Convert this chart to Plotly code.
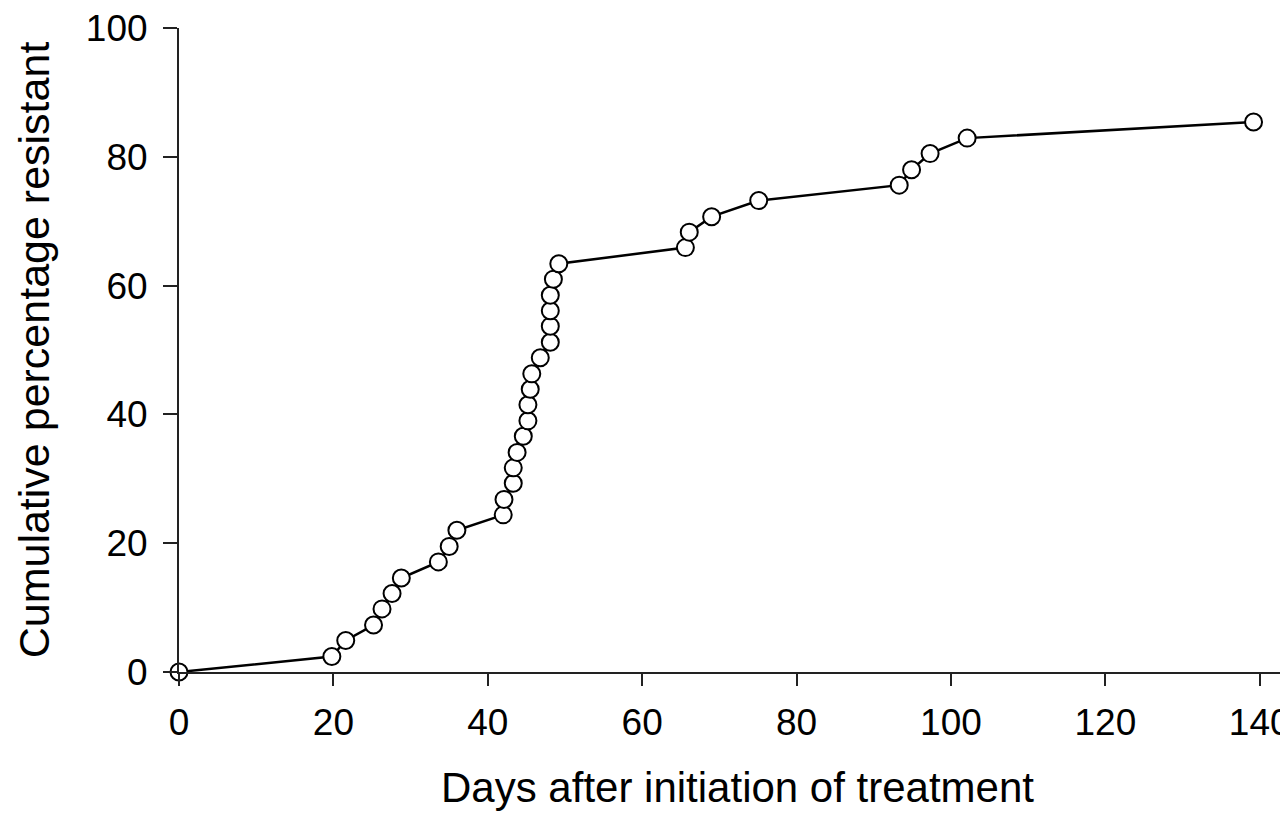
import plotly.graph_objects as go

days = [0, 19.8, 21.6, 25.2, 26.3, 27.6, 28.8, 33.6, 35.0, 36.0, 42.0, 42.1,
        43.3, 43.3, 43.8, 44.6, 45.2, 45.2, 45.5, 45.7, 46.8, 48.1, 48.1, 48.1,
        48.1, 48.5, 49.2, 65.6, 66.1, 69.0, 75.1, 93.3, 94.9, 97.3, 102.1, 139.2]
pct = [0, 2.4, 4.9, 7.3, 9.8, 12.2, 14.6, 17.1, 19.5, 22.0, 24.4, 26.8,
       29.3, 31.7, 34.1, 36.6, 39.0, 41.5, 43.9, 46.3, 48.8, 51.2, 53.7, 56.1,
       58.5, 61.0, 63.4, 65.9, 68.3, 70.7, 73.2, 75.6, 78.0, 80.5, 82.9, 85.4]

x_ticks = [0, 20, 40, 60, 80, 100, 120, 140]
y_ticks = [0, 20, 40, 60, 80, 100]

FONT = "Liberation Sans, Arial, sans-serif"

fig = go.Figure()
fig.add_trace(go.Scatter(
    x=days, y=pct, mode="lines+markers",
    line=dict(color="black", width=2.5),
    marker=dict(symbol="circle", size=17, color="white",
                line=dict(color="black", width=2)),
    cliponaxis=False, showlegend=False,
))

axis_common = dict(
    showline=True, linecolor="#222", linewidth=2,
    ticks="outside", tickcolor="#222", tickwidth=2,
    showgrid=False, zeroline=False, ticklabeloverflow="allow",
    tickfont=dict(family=FONT, size=37, color="black"),
)

fig.update_layout(
    width=1288, height=818,
    margin=dict(l=171, r=0, t=18, b=154),
    paper_bgcolor="white", plot_bgcolor="white",
    font=dict(family=FONT, color="black"),
    xaxis=dict(range=[0, 144.7], tickvals=x_ticks, ticklen=12,
               ticklabelstandoff=5,
               title=dict(text="Days after initiation of treatment",
                          font=dict(family=FONT, size=42), standoff=30),
               **axis_common),
    yaxis=dict(range=[0, 100], tickvals=y_ticks, ticklen=14,
               ticklabelstandoff=8,
               title=dict(text="Cumulative percentage resistant",
                          font=dict(family=FONT, size=43), standoff=23),
               **axis_common),
)

fig.write_html("out.html")
